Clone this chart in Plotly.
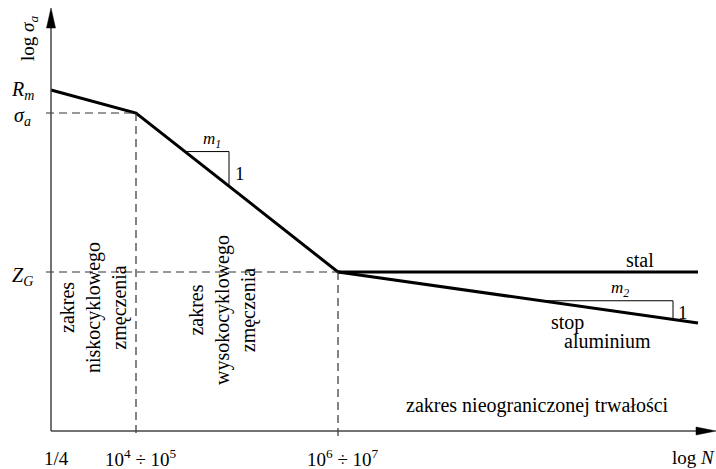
import numpy as np
import plotly.graph_objects as go

# ---- data (abstract log-scale positions) ----
logN_keys = [0, 85, 287, 647]          # 1/4, 10^4÷10^5, 10^6÷10^7, end of diagram
steel_y = [341, 318, 159, 159]         # Rm -> sigma_a -> Z_G -> horizontal (stal)
alu_x = [287, 647]
alu_y = [159, 108]                     # stop aluminium
tick_labels = ["1/4", "10<sup>4</sup> ÷ 10<sup>5</sup>", "10<sup>6</sup> ÷ 10<sup>7</sup>"]
y_labels = ["<i>R<sub>m</sub></i>", "<i>σ<sub>a</sub></i>", "<i>Z<sub>G</sub></i>"]
y_label_vals = [341, 318, 159]
m1_span = [134, 178]
m2_span = [490, 622]

FONT = "Times New Roman, Liberation Serif, DejaVu Serif, serif"
x_axis_end = 665
y_axis_end = 423

fig = go.Figure()

# main curves
fig.add_trace(go.Scatter(x=logN_keys, y=steel_y, mode="lines",
                         line=dict(color="black", width=3), hoverinfo="skip"))
fig.add_trace(go.Scatter(x=alu_x, y=alu_y, mode="lines",
                         line=dict(color="black", width=3), hoverinfo="skip"))

dash = dict(color="#333333", width=1.2, dash="8px,5px")
# dashed guides
fig.add_trace(go.Scatter(x=[-5, logN_keys[1]], y=[steel_y[1], steel_y[1]], mode="lines", line=dash, hoverinfo="skip"))
fig.add_trace(go.Scatter(x=[logN_keys[1], logN_keys[1]], y=[steel_y[1], -7], mode="lines", line=dash, hoverinfo="skip"))
fig.add_trace(go.Scatter(x=[-5, logN_keys[2]], y=[steel_y[2], steel_y[2]], mode="lines", line=dash, hoverinfo="skip"))
fig.add_trace(go.Scatter(x=[logN_keys[2], logN_keys[2]], y=[steel_y[2], -7], mode="lines", line=dash, hoverinfo="skip"))

# slope triangles
seg_x = logN_keys[1:3]
seg_y = steel_y[1:3]
t1y = [float(np.interp(v, seg_x, seg_y)) for v in m1_span]
fig.add_trace(go.Scatter(x=[m1_span[0], m1_span[1], m1_span[1]], y=[t1y[0], t1y[0], t1y[1]],
                         mode="lines", line=dict(color="black", width=1), hoverinfo="skip"))
t2y = [float(np.interp(v, alu_x, alu_y)) for v in m2_span]
fig.add_trace(go.Scatter(x=[m2_span[0], m2_span[1], m2_span[1]], y=[t2y[0], t2y[0], t2y[1]],
                         mode="lines", line=dict(color="black", width=1), hoverinfo="skip"))

# axes with arrows
axc = "#444444"
fig.add_shape(type="line", x0=0, y0=0, x1=x_axis_end - 10, y1=0, line=dict(color=axc, width=1.5))
fig.add_shape(type="line", x0=0, y0=0, x1=0, y1=y_axis_end - 10, line=dict(color=axc, width=1.5))
fig.add_shape(type="path",
              path=f"M {x_axis_end},0 L {x_axis_end-20},4 L {x_axis_end-20},-4 Z",
              fillcolor="black", line=dict(color="black", width=0.5))
fig.add_shape(type="path",
              path=f"M 0,{y_axis_end} L -4.5,{y_axis_end-20} L 4.5,{y_axis_end-20} Z",
              fillcolor="black", line=dict(color="black", width=0.5))


def ann(x, y, text, size=20, angle=0, xanchor="center", yanchor="middle"):
    fig.add_annotation(x=x, y=y, text=text, showarrow=False, textangle=angle,
                       xanchor=xanchor, yanchor=yanchor,
                       font=dict(family=FONT, size=size, color="black"))


# x tick labels
for pos, lab in zip(logN_keys[:3], tick_labels):
    ann(pos + 5, -27, lab, size=19)
ann(642, -26, "log <i>N</i>", size=19)

# y labels
for val, lab, dy in zip(y_label_vals, y_labels, [0, -3, -4]):
    ann(-29, val + dy, lab, size=20)
ann(-22, 392, "log <i>σ<sub>a</sub></i>", size=19, angle=-90)

# region texts
ann(42, 123, "zakres<br>niskocyklowego<br>zmęczenia", size=20, angle=-90)
ann(171, 121, "zakres<br>wysokocyklowego<br>zmęczenia", size=20, angle=-90)
ann(486, 26, "zakres nieograniczonej trwałości", size=20)

# curve labels
ann(589, 171, "stal", size=20)
ann(516, 109, "stop", size=20)
ann(556, 90, "aluminium", size=20)
ann(161, 291, "<i>m<sub>1</sub></i>", size=17)
ann(189, 258, "1", size=19)
ann(569, 142, "<i>m<sub>2</sub></i>", size=17)
ann(632, 119, "1", size=19)

fig.update_layout(
    width=716, height=469,
    margin=dict(l=0, r=0, t=0, b=0),
    paper_bgcolor="white", plot_bgcolor="white",
    showlegend=False,
    font=dict(family=FONT, size=19, color="black"),
    xaxis=dict(range=[-51, 665], visible=False, fixedrange=True),
    yaxis=dict(range=[-38, 431], visible=False, fixedrange=True),
)

fig.write_html("out.html", config={"displayModeBar": False},
               post_script="document.body.style.margin='0';document.body.style.overflow='hidden';")
